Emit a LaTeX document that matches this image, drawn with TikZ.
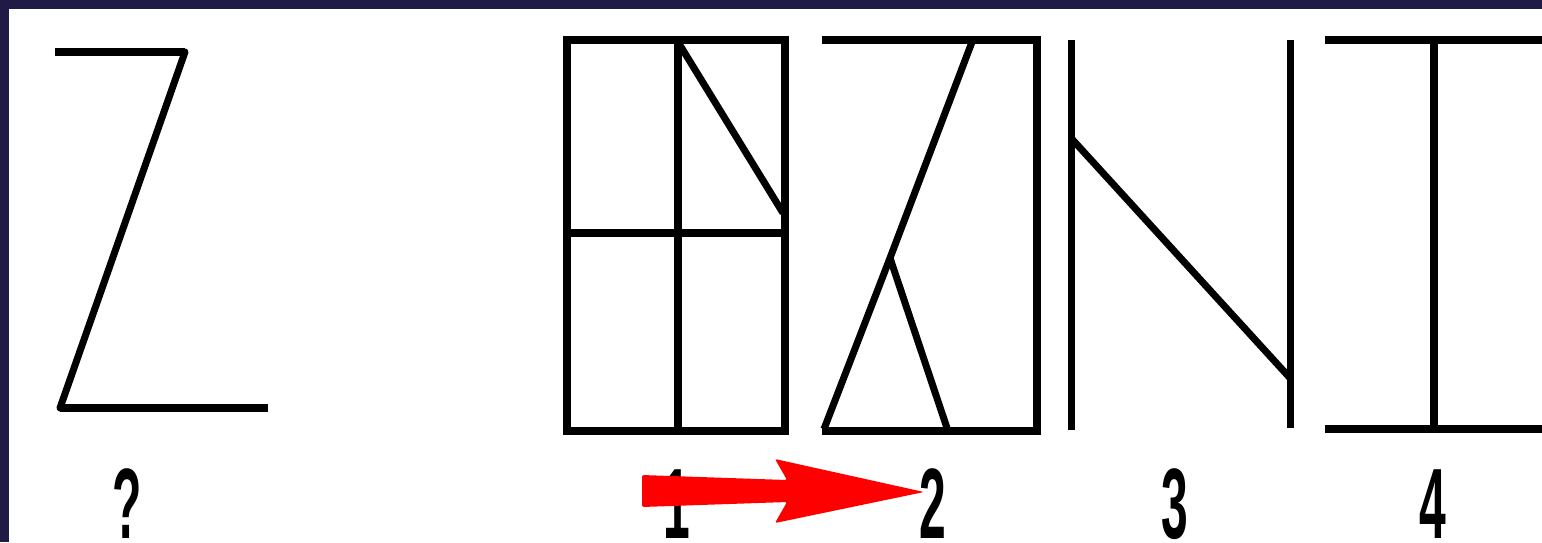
\documentclass[tikz,border=0pt]{standalone}
\usepackage{fontspec}
\setmainfont{Liberation Sans}
\definecolor{framenavy}{RGB}{32,26,70}
\definecolor{arrowred}{RGB}{255,0,0}
\begin{document}
\begin{tikzpicture}[x=0.5pt,y=-0.5pt,
  thickline/.style={draw=black,line width=4pt,line join=miter},
  thinline/.style={draw=black,line width=3.5pt,line cap=butt},
  lbl/.style={inner sep=0pt,anchor=base,xscale=0.48,font=\bfseries\fontsize{50}{60}\selectfont}]
\useasboundingbox (0,0) rectangle (1542,542);
\fill[framenavy] (0,0) rectangle (1542,542);
\fill[white] (9,9) rectangle (1542,542);
% figure ?  (Z)
\coordinate (ztl) at (55,52);
\coordinate (ztr) at (185,52);
\coordinate (zbl) at (60,408);
\coordinate (zbr) at (268,408);
\draw[thickline] (ztl) -- (ztr);
\draw[thickline] (zbl) -- (zbr);
\draw[thinline,line cap=round] (ztr) -- (zbl);
% figure 1
\draw[thickline] (567,40) rectangle (785,431);
\draw[thickline] (678,40) -- (678,431);
\draw[thickline] (567,233) -- (785,233);
\draw[thinline] (678,42) -- (783,213);
% figure 2
\draw[thickline] (822,40) -- (1037,40) -- (1037,431) -- (822,431);
\coordinate (cross) at (890,258);
\draw[thinline] (972,42) -- (cross) -- (824,429);
\draw[thinline] (cross) -- (948,431);
% figure 3
\draw[thinline] (1071,40) -- (1071,430);
\draw[thinline] (1290,40) -- (1290,428);
\draw[thinline] (1071,138) -- (1290,378);
% figure 4
\draw[thickline] (1325,40) -- (1542,40);
\draw[thickline] (1325,429) -- (1542,429);
\draw[thickline] (1434,40) -- (1434,429);
% labels
\node[lbl] (lq) at (127,538) {?};
\node[lbl] (l1) at (677,538) {1};
\node[lbl] (l2) at (933,538) {2};
\node[lbl] (l3) at (1175,538) {3};
\node[lbl] (l4) at (1433,538) {4};
% red arrow
\fill[arrowred,rounded corners=1pt] (642,475) -- (787,480) -- (775,459) -- (924,492) -- (775,523) -- (787,502) -- (642,507) -- cycle;
\end{tikzpicture}
\end{document}
